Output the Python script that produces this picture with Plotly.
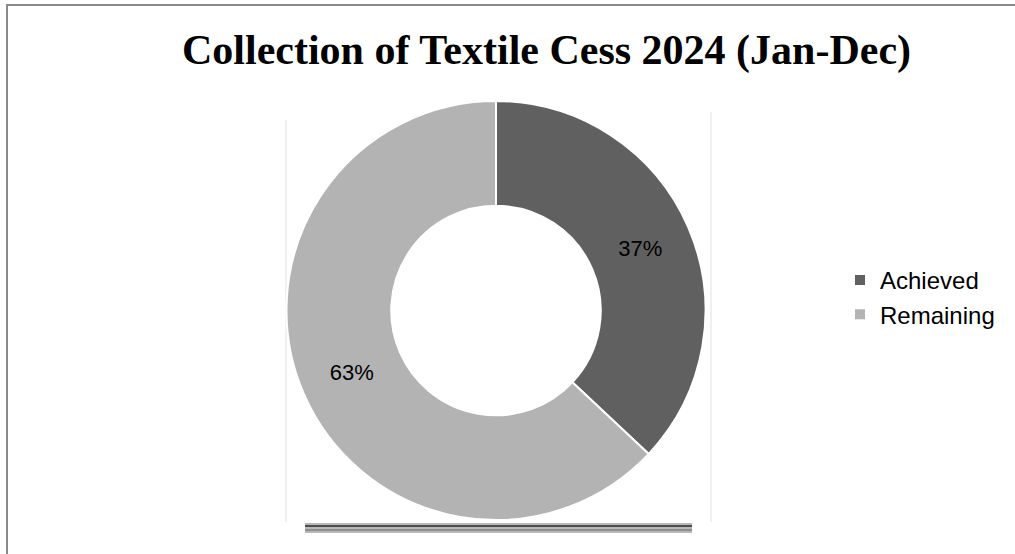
import plotly.graph_objects as go

labels = ["Achieved", "Remaining"]
values = [37, 63]
colors = ["#606060", "#b3b3b3"]
title_text = "Collection of Textile Cess 2024 (Jan-Dec)"

W, H = 1015, 554

fig = go.Figure()
fig.add_trace(go.Pie(
    labels=labels,
    values=values,
    hole=0.5,
    sort=False,
    direction="clockwise",
    rotation=0,
    marker=dict(colors=colors, line=dict(color="white", width=2)),
    textinfo="percent",
    textposition="inside",
    insidetextorientation="horizontal",
    textfont=dict(family="Liberation Sans, Arial", size=22, color="black"),
    domain=dict(x=[286 / W, 706 / W], y=[1 - 520 / H, 1 - 101 / H]),
    showlegend=True,
    hoverinfo="label+percent",
))

shapes = [
    # outer chart border (extends beyond page at right and bottom)
    dict(type="rect", xref="paper", yref="paper", x0=7 / W, y0=-0.2, x1=1.2, y1=1 - 5 / H,
         line=dict(color="#8a8a8a", width=2), fillcolor="rgba(0,0,0,0)", layer="below"),
    # faint plot-area frame lines
    dict(type="line", xref="paper", yref="paper", x0=286 / W, x1=286 / W, y0=1 - 522 / H, y1=1 - 120 / H,
         line=dict(color="#ebebeb", width=1.5), layer="below"),
    dict(type="line", xref="paper", yref="paper", x0=711 / W, x1=711 / W, y0=1 - 522 / H, y1=1 - 112 / H,
         line=dict(color="#ebebeb", width=1.5), layer="below"),
    # bottom artifact bar
    dict(type="rect", xref="paper", yref="paper", x0=305 / W, x1=692 / W, y0=1 - 533 / H, y1=1 - 523 / H,
         line=dict(width=0), fillcolor="#b8b8b8", layer="below"),
    dict(type="line", xref="paper", yref="paper", x0=305 / W, x1=692 / W, y0=1 - 526 / H, y1=1 - 526 / H,
         line=dict(color="#2a2a2a", width=1.5), layer="below"),
    dict(type="line", xref="paper", yref="paper", x0=305 / W, x1=692 / W, y0=1 - 530 / H, y1=1 - 530 / H,
         line=dict(color="#666666", width=1), layer="below"),
]

fig.update_layout(
    width=W, height=H,
    margin=dict(l=0, r=0, t=0, b=0),
    paper_bgcolor="white",
    plot_bgcolor="white",
    shapes=shapes,
    annotations=[dict(
        text="<b>" + title_text + "</b>",
        xref="paper", yref="paper",
        x=546 / W, y=1 - 51 / H,
        xanchor="center", yanchor="middle",
        showarrow=False,
        font=dict(family="Liberation Serif, Times New Roman", size=42, color="black"),
    )],
    legend=dict(
        x=840 / W, y=1 - 258 / H,
        xanchor="left", yanchor="top",
        font=dict(family="Liberation Sans, Arial", size=24, color="black"),
        bgcolor="rgba(0,0,0,0)",
        itemwidth=30,
    ),
)

fig.write_html("out.html")
